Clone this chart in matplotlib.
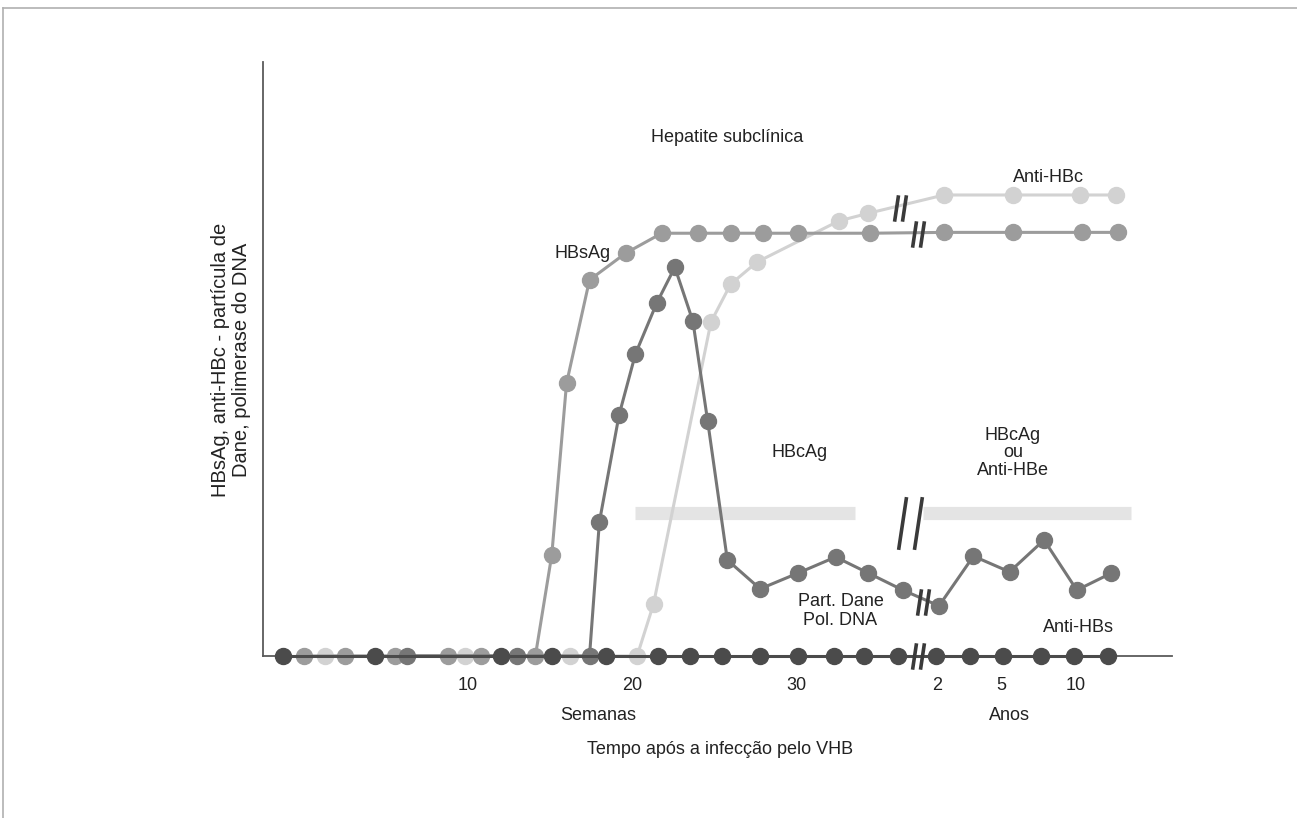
import matplotlib
matplotlib.use("Agg")
import matplotlib.pyplot as plt
from matplotlib.path import Path
from matplotlib.lines import Line2D
import matplotlib.transforms as mtransforms

plt.rcParams['font.family'] = ['Liberation Sans Narrow', 'Liberation Sans', 'DejaVu Sans']

# x: weeks after infection (positions right of the break stand for years)
# y: relative level (HBsAg plateau = 100)
hbsag_x = [0, 2.5, 5.55, 8.8, 10.8, 14.1, 15.1, 16.0, 17.4, 19.6, 21.8, 24.0, 26.0, 28.0, 30.1, 34.5,
           39.0, 43.2, 47.4, 49.6]
hbsag_y = [0, 0, 0, 0, 0, 0, 23.8, 64.2, 88.5, 94.8, 99.5, 99.5, 99.5, 99.5, 99.5, 99.5,
           99.7, 99.7, 99.7, 99.7]

dane_x = [6.3, 13.0, 17.4, 18.0, 19.2, 20.2, 21.5, 22.6, 23.7, 24.6, 25.8, 27.8, 30.1, 32.4, 34.4, 36.5,
          38.7, 40.8, 43.0, 45.1, 47.1, 49.2]
dane_y = [0, 0, 0, 31.5, 56.7, 71.1, 83.1, 91.5, 78.8, 55.3, 22.6, 15.8, 19.5, 23.3, 19.5, 15.5,
          11.8, 23.5, 19.8, 27.3, 15.5, 19.5]

antihbc_x = [1.3, 9.8, 16.2, 20.3, 21.3, 24.8, 26.0, 27.6, 32.6, 34.4, 39.0, 43.2, 47.3, 49.5]
antihbc_y = [0, 0, 0, 0, 12.2, 78.6, 87.5, 92.7, 102.4, 104.2, 108.5, 108.5, 108.5, 108.5]

antihbs_x = [-1.3, 4.3, 12.0, 15.1, 18.4, 21.6, 23.5, 25.5, 27.8, 30.1, 32.3, 34.1, 36.2,
             38.5, 40.6, 42.6, 44.9, 46.9, 49.0]
antihbs_y = [0] * len(antihbs_x)

# HBcAg / anti-HBe bars
bar_start = [20.2, 37.7]
bar_end = [33.6, 50.4]
bar_level = 33.6

tick_pos = [10, 20, 30, 38.6, 42.5, 47.0]
tick_labels = ['10', '20', '30', '2', '5', '10']

# axis-break marks (x, y)
breaks_small = [(37.4, 0), (37.4, 99.3), (36.3, 105.4), (37.7, 12.7)]
break_big = (36.95, 31.3)

fig = plt.figure(figsize=(12.97, 8.18), dpi=100)
ax = fig.add_axes([263 / 1297, 162 / 818, 909 / 1297, 594 / 818])
ax.set_xlim(-2.5, 52.9)
ax.set_ylim(0, 139.8)

for s in ['top', 'right']:
    ax.spines[s].set_visible(False)
for s in ['left', 'bottom']:
    ax.spines[s].set_color('#5a5a5a')
    ax.spines[s].set_linewidth(1.3)

fs = 13
tc = '#222222'

ax.set_xticks(tick_pos)
ax.set_xticklabels(tick_labels, fontsize=fs, color=tc)
ax.tick_params(axis='x', length=0, pad=15)
ax.set_yticks([])

# bars
for a, b in zip(bar_start, bar_end):
    ax.plot([a, b], [bar_level, bar_level], color='#e4e4e4', lw=9.5, solid_capstyle='butt', zorder=1)

ms = 11.5
lw = 2.2
ax.plot(antihbc_x, antihbc_y, '-o', color='#d2d2d2', ms=ms, lw=lw, clip_on=False, zorder=3)
ax.plot(hbsag_x, hbsag_y, '-o', color='#9c9c9c', ms=ms, lw=lw, clip_on=False, zorder=4)
ax.plot(dane_x, dane_y, '-o', color='#767676', ms=ms, lw=lw, clip_on=False, zorder=5)
ax.plot(antihbs_x, antihbs_y, '-o', color='#4b4b4b', ms=ms, lw=lw, clip_on=False, zorder=6)

# slash marker for breaks
slash = Path([(-0.45, -1), (-0.15, 1), (0.15, -1), (0.45, 1)],
             [Path.MOVETO, Path.LINETO, Path.MOVETO, Path.LINETO])
for bx, by in breaks_small:
    ax.plot([bx], [by], marker=slash, ms=19, mew=2.6, color='#3a3a3a',
            linestyle='none', clip_on=False, zorder=8)
ax.plot([break_big[0]], [break_big[1]], marker=slash, ms=38, mew=2.6, color='#3a3a3a',
        linestyle='none', zorder=8)

ax.text(25.8, 122.1, 'Hepatite subclínica', fontsize=fs, color=tc, ha='center', va='center')
ax.text(45.4, 112.5, 'Anti-HBc', fontsize=fs, color=tc, ha='center', va='center')
ax.text(16.95, 94.8, 'HBsAg', fontsize=fs, color=tc, ha='center', va='center')
ax.text(30.2, 48.0, 'HBcAg', fontsize=fs, color=tc, ha='center', va='center')
ax.text(43.2, 47.8, 'HBcAg\nou\nAnti-HBe', fontsize=fs, color=tc, ha='center', va='center',
        linespacing=1.05)
ax.text(32.7, 10.6, 'Part. Dane\nPol. DNA', fontsize=fs, color=tc, ha='center', va='center',
        linespacing=1.12)
ax.text(47.2, 6.6, 'Anti-HBs', fontsize=fs, color=tc, ha='center', va='center')

blend = mtransforms.blended_transform_factory(ax.transData, fig.transFigure)
ax.text(17.9, 1 - 716 / 818, 'Semanas', fontsize=fs, color=tc, ha='center', va='center', transform=blend)
ax.text(43.0, 1 - 716 / 818, 'Anos', fontsize=fs, color=tc, ha='center', va='center', transform=blend)

fig.text(720 / 1297, 1 - 750 / 818, 'Tempo após a infecção pelo VHB', fontsize=fs, color=tc,
         ha='center', va='center')
fig.text(231 / 1297, 1 - 360 / 818, 'HBsAg, anti-HBc - partícula de\nDane, polimerase do DNA',
         fontsize=14.5, color=tc, ha='center', va='center', rotation=90, multialignment='center',
         linespacing=1.15)

# outer frame (top and left edges)
fig.add_artist(Line2D([3 / 1297, 1], [1 - 8 / 818, 1 - 8 / 818], color='#b0b0b0', lw=1.2))
fig.add_artist(Line2D([3 / 1297, 3 / 1297], [0, 1 - 8 / 818], color='#b0b0b0', lw=1.2))

fig.savefig('out.png', dpi=100)
